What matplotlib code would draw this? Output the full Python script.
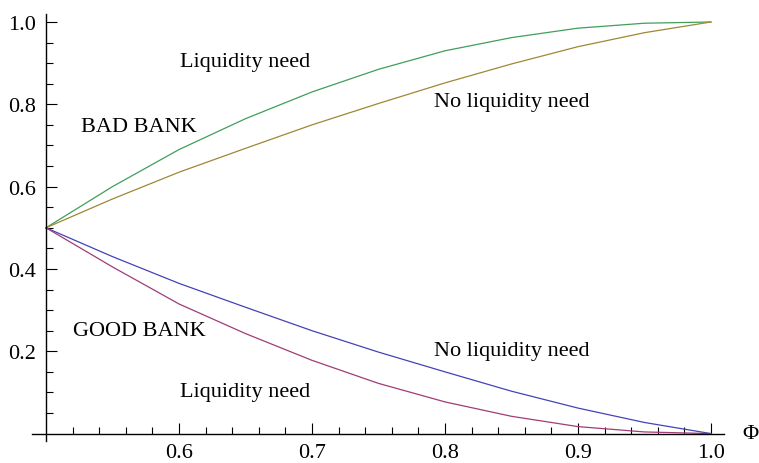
import matplotlib
matplotlib.use("Agg")
import matplotlib.pyplot as plt
import numpy as np
from matplotlib.ticker import FixedLocator, FormatStrFormatter

# ---- data ----
phi = [0.50, 0.55, 0.60, 0.65, 0.70, 0.75, 0.80, 0.85, 0.90, 0.95, 1.00]
bad_liquidity = [0.50, 0.600, 0.690, 0.765, 0.830, 0.885, 0.930, 0.962, 0.985, 0.997, 1.00]
bad_no_liquidity = [0.50, 0.570, 0.635, 0.693, 0.750, 0.802, 0.852, 0.898, 0.940, 0.974, 1.00]
good_no_liquidity = [0.50, 0.430, 0.365, 0.307, 0.250, 0.198, 0.150, 0.103, 0.062, 0.027, 0.00]
good_liquidity = [0.50, 0.405, 0.315, 0.243, 0.178, 0.122, 0.077, 0.042, 0.017, 0.004, 0.00]

x_major = [0.6, 0.7, 0.8, 0.9, 1.0]
y_major = [0.2, 0.4, 0.6, 0.8, 1.0]

labels = [
    ("Liquidity need", 0.65, 0.903),
    ("BAD BANK", 0.570, 0.745),
    ("No liquidity need", 0.850, 0.806),
    ("GOOD BANK", 0.570, 0.2515),
    ("No liquidity need", 0.850, 0.203),
    ("Liquidity need", 0.65, 0.103),
]

plt.rcParams['font.family'] = ['Liberation Serif', 'DejaVu Serif']

fig = plt.figure(figsize=(7.59, 4.64), dpi=100)
ax = fig.add_axes([32/759, 1-442/464, (724-32)/759, (442-15)/464])

ax.plot(phi, bad_liquidity, color='#3f9f5c', lw=0.9)
ax.plot(phi, bad_no_liquidity, color='#9e8834', lw=0.9)
ax.plot(phi, good_no_liquidity, color='#4343b8', lw=0.9)
ax.plot(phi, good_liquidity, color='#a03c78', lw=0.9)

ax.set_xlim(0.4895, 1.0098)
ax.set_ylim(-0.018, 1.0194)

for s in ['top', 'right']:
    ax.spines[s].set_visible(False)
ax.spines['left'].set_position(('data', 0.5))
ax.spines['bottom'].set_position(('data', 0.0))
for s in ['left', 'bottom']:
    ax.spines[s].set_linewidth(1.0)

ax.xaxis.set_major_locator(FixedLocator(x_major))
ax.yaxis.set_major_locator(FixedLocator(y_major))
x_minor = [round(v, 2) for v in np.arange(0.52, 1.0, 0.02) if round(v, 2) not in x_major]
y_minor = [round(v, 2) for v in np.arange(0.05, 1.0, 0.05) if round(v, 2) not in y_major]
ax.xaxis.set_minor_locator(FixedLocator(x_minor))
ax.yaxis.set_minor_locator(FixedLocator(y_minor))
ax.xaxis.set_major_formatter(FormatStrFormatter('%.1f'))
ax.yaxis.set_major_formatter(FormatStrFormatter('%.1f'))

ax.tick_params(which='major', direction='in', length=8, width=0.8, labelsize=16, pad=7)
ax.tick_params(which='minor', direction='in', length=5, width=0.8)

for txt, x, y in labels:
    ax.text(x, y, txt, fontsize=16, ha='center', va='center')

ax.text(1.030, 0.0, "Φ", fontsize=16, ha='center', va='center', clip_on=False)

fig.savefig("out.png", dpi=100)
